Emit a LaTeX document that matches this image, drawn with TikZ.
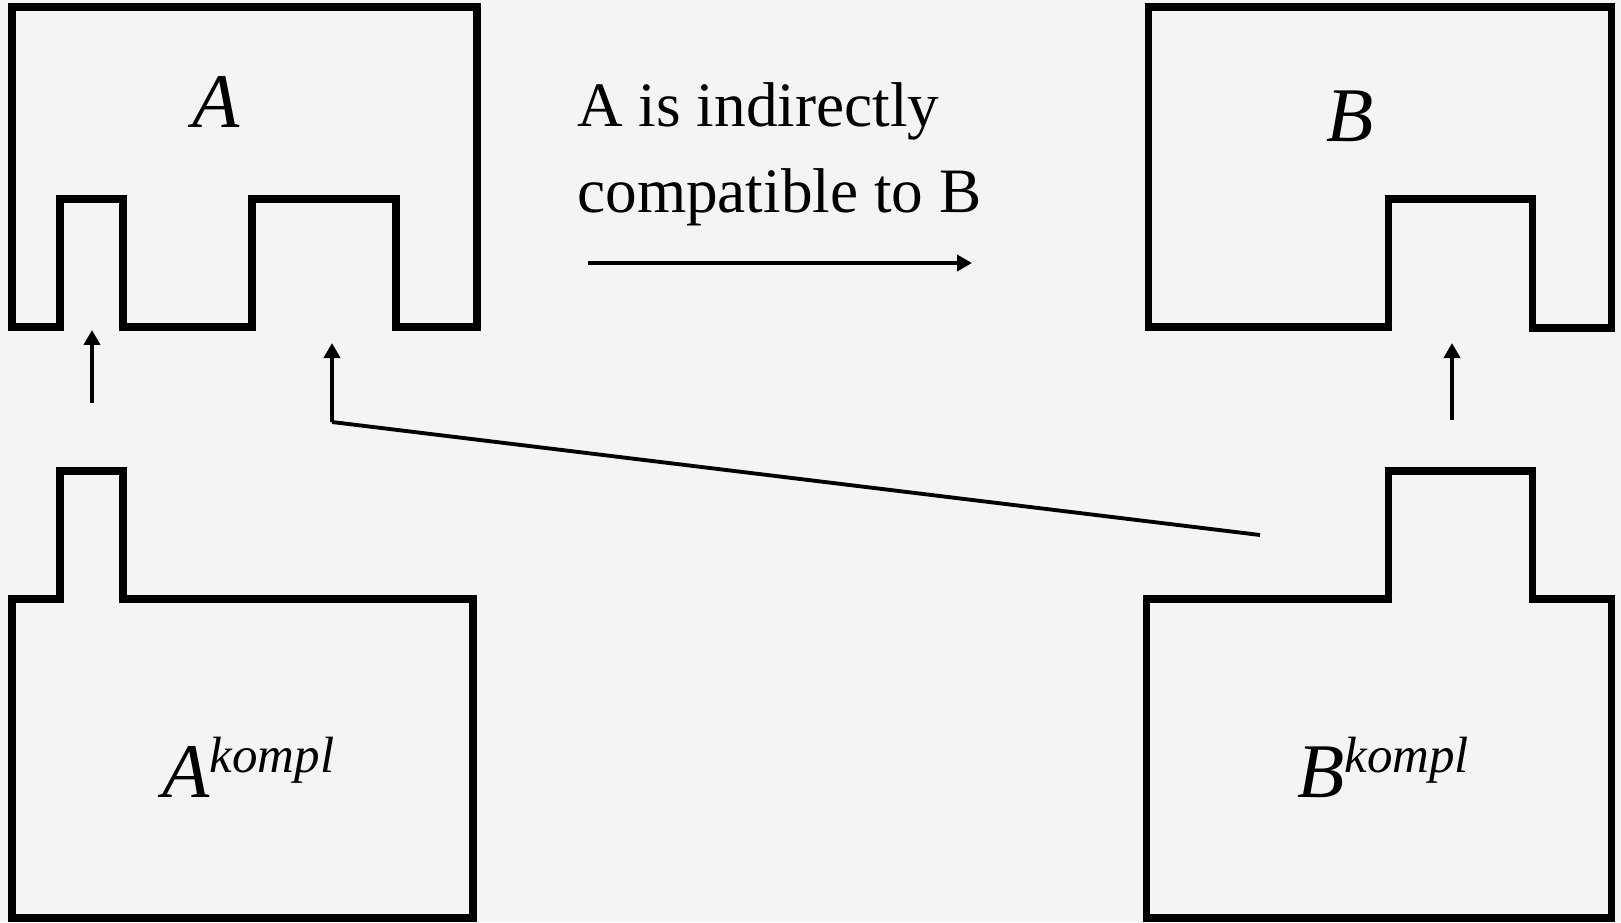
\documentclass[tikz,border=0pt]{standalone}
\usepackage{fontspec}
\setmainfont{Liberation Serif}
\usepackage{tikz}
\usetikzlibrary{arrows.meta}
\definecolor{bgGrey}{HTML}{F4F4F4}
\definecolor{lineBlack}{HTML}{000000}
\newcommand{\kompl}[1]{\textit{#1}\raisebox{14pt}{\fontsize{29}{29}\selectfont\itshape kompl}}

\begin{document}
\begin{tikzpicture}[x=0.02cm, y=-0.02cm,
  part/.style={draw=lineBlack, line width=4pt, line join=miter},
  link/.style={draw=lineBlack, line width=2.2pt},
  plug/.style={link, -{Triangle[length=0.3cm, width=0.32cm]}},
  partlabel/.style={anchor=base, font=\fontsize{44}{44}\selectfont\itshape, inner sep=0pt},
  complabel/.style={anchor=base west, font=\fontsize{44}{44}\selectfont, inner sep=0pt},
  txt/.style={anchor=base west, font=\fontsize{36}{36}\selectfont, inner sep=0pt}]
  \fill[bgGrey] (0,0) rectangle (1621,922);
  \useasboundingbox (0,0) rectangle (1621,922);

  % component A with two sockets
  \draw[part] (12,7) -- (477,7) -- (477,327) -- (396,327) -- (396,199) -- (252,199) -- (252,327)
    -- (123,327) -- (123,199) -- (60,199) -- (60,327) -- (12,327) -- cycle;
  \node[partlabel] (labA) at (216,128) {A};

  % component B with one socket
  \draw[part] (1148,7) -- (1611,7) -- (1611,328) -- (1532,328) -- (1532,199) -- (1388,199)
    -- (1388,327) -- (1148,327) -- cycle;
  \node[partlabel] (labB) at (1350,142) {B};

  % complements
  \draw[part] (12,599) -- (60,599) -- (60,471) -- (123,471) -- (123,599) -- (473,599)
    -- (473,918) -- (12,918) -- cycle;
  \node[complabel] (labAk) at (162,797) {\kompl{A}};
  \draw[part] (1146,599) -- (1388,599) -- (1388,471) -- (1532,471) -- (1532,599) -- (1611,599)
    -- (1611,918) -- (1146,918) -- cycle;
  \node[complabel] (labBk) at (1297,797) {\kompl{B}};

  % statement
  \node[txt] (txt1) at (577,127) {A is indirectly};
  \node[txt] (txt2) at (577,213) {compatible to B};
  \coordinate (hs) at (588,263);
  \coordinate (he) at (972,263);
  \draw[plug] (hs) -- (he);

  % plugging arrows
  \coordinate (p1s) at (92,403);
  \coordinate (p1e) at (92,330);
  \coordinate (p2s) at (332,422);
  \coordinate (p2e) at (332,343);
  \coordinate (p3s) at (1452,420);
  \coordinate (p3e) at (1452,343);
  \coordinate (dl) at (1260,535);
  \draw[plug] (p1s) -- (p1e);
  \draw[plug] (p2s) -- (p2e);
  \draw[plug] (p3s) -- (p3e);
  \draw[link] (p2s) -- (dl);
\end{tikzpicture}
\end{document}
